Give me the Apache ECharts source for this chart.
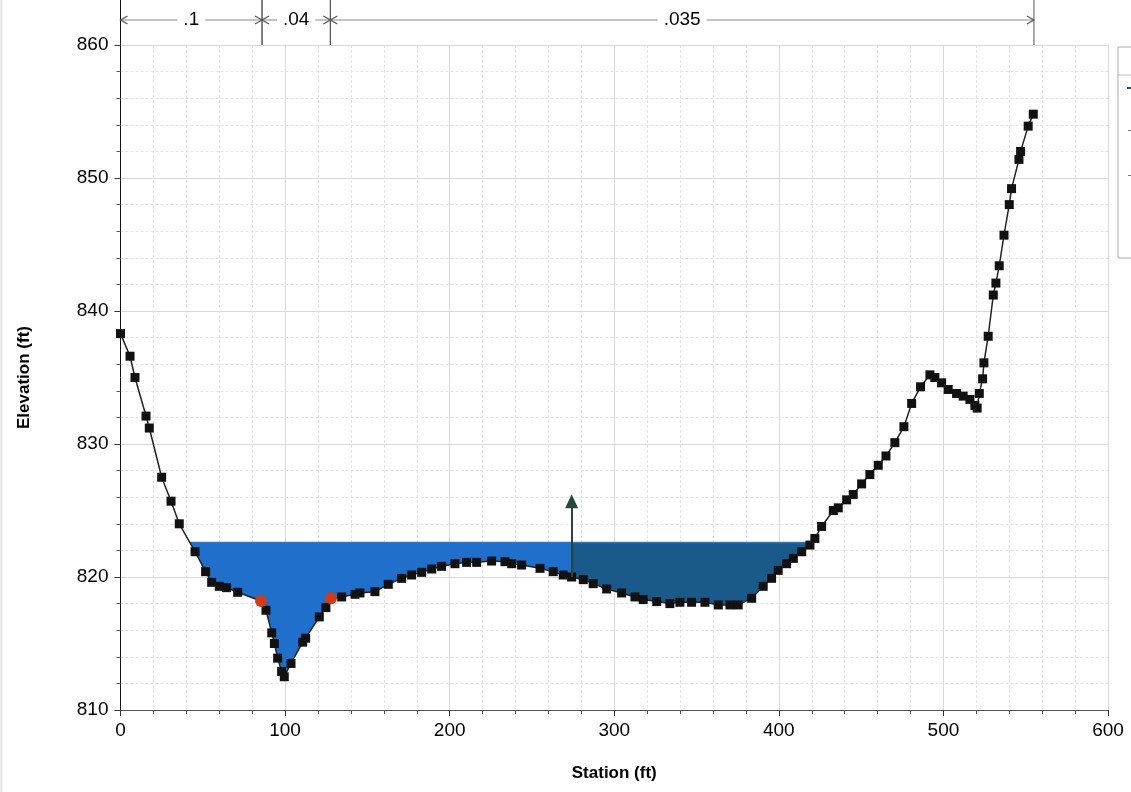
<!DOCTYPE html>
<html><head><meta charset="utf-8">
<script src="https://cdn.jsdelivr.net/npm/echarts@6/dist/echarts.min.js"></script>
<style>html,body{margin:0;padding:0;background:#fff}#c{width:1131px;height:792px}</style>
</head><body><div id="c"></div>
<script>
// Ground profile (station ft, elevation ft)
const stations = [0, 5.8, 8.8, 15.5, 17.5, 25.0, 30.7, 35.7, 45.3, 51.7, 55.4, 60.0, 64.5, 71.2, 85.4, 88.4, 91.9, 93.5, 95.5, 97.9, 99.5, 103.6, 110.7, 112.5, 120.8, 124.8, 127.9, 134.4, 142.5, 145.5, 154.6, 162.7, 170.8, 176.9, 183.0, 189.1, 195.1, 203.2, 210.3, 216.4, 225.5, 233.6, 237.7, 243.7, 254.9, 262.9, 269.0, 274.1, 281.2, 287.2, 295.4, 304.5, 312.6, 317.6, 325.8, 333.8, 339.9, 347.0, 355.1, 363.2, 370.3, 375.3, 383.5, 390.5, 395.6, 399.6, 404.7, 408.8, 413.9, 418.9, 421.9, 426.0, 433.1, 436.1, 441.2, 445.2, 450.3, 455.3, 460.4, 465.1, 470.5, 476.0, 480.7, 486.1, 491.8, 494.8, 498.9, 502.9, 508.0, 512.0, 516.1, 519.1, 520.5, 521.8, 523.8, 524.6, 527.2, 530.3, 531.9, 533.9, 536.8, 540.0, 541.4, 545.9, 546.9, 551.5, 554.6];
const elevations = [838.3, 836.6, 835.0, 832.1, 831.2, 827.5, 825.7, 824.0, 821.9, 820.4, 819.6, 819.3, 819.2, 818.85, 818.2, 817.5, 815.8, 815.0, 813.9, 812.9, 812.5, 813.5, 815.1, 815.4, 817.0, 817.7, 818.4, 818.5, 818.7, 818.8, 818.9, 819.45, 819.9, 820.15, 820.35, 820.6, 820.8, 821.0, 821.1, 821.1, 821.2, 821.15, 821.0, 820.9, 820.65, 820.4, 820.15, 820.0, 819.8, 819.5, 819.1, 818.8, 818.5, 818.3, 818.15, 818.0, 818.1, 818.1, 818.1, 817.9, 817.9, 817.9, 818.4, 819.3, 819.9, 820.5, 821.0, 821.4, 821.9, 822.4, 822.9, 823.8, 825.0, 825.2, 825.8, 826.2, 827.0, 827.7, 828.4, 829.1, 830.1, 831.3, 833.05, 834.3, 835.2, 835.0, 834.6, 834.1, 833.8, 833.6, 833.35, 832.9, 832.7, 833.8, 834.9, 836.1, 838.1, 841.2, 842.1, 843.4, 845.7, 848.0, 849.2, 851.4, 852.0, 853.9, 854.8];
// Bank stations (red points)
const bankStations = [85.4, 127.9];
const bankElevations = [818.2, 818.4];
// Manning's n regions
const nBreaks = [0, 86, 127.5, 555];
const nValues = ['.1', '.04', '.035'];
// Water surface & flow split arrow
const waterSurface = 822.6;
const flowSplitStation = 274.1;
const arrowTopElevation = 825.7;
// Axes
const xMin = 0, xMax = 600, xStep = 100;
const yMin = 810, yMax = 860, yStep = 10;

function groundAt(s) {
  for (let i = 0; i < stations.length - 1; i++) {
    if (s >= stations[i] && s <= stations[i + 1]) {
      const t = (s - stations[i]) / (stations[i + 1] - stations[i]);
      return elevations[i] + t * (elevations[i + 1] - elevations[i]);
    }
  }
  return elevations[elevations.length - 1];
}
function crossings(ws) {
  let left = null, right = null;
  for (let i = 0; i < stations.length - 1; i++) {
    const a = elevations[i], b = elevations[i + 1];
    if (left === null && a >= ws && b < ws) {
      left = stations[i] + (a - ws) / (a - b) * (stations[i + 1] - stations[i]);
    }
    if (a < ws && b >= ws) {
      right = stations[i] + (ws - a) / (b - a) * (stations[i + 1] - stations[i]);
    }
  }
  return [left, right];
}
function poly(api, a, b, ws) {
  const pts = [api.coord([a, ws]), api.coord([a, groundAt(a)])];
  for (let i = 0; i < stations.length; i++) {
    if (stations[i] > a && stations[i] < b) pts.push(api.coord([stations[i], elevations[i]]));
  }
  pts.push(api.coord([b, groundAt(b)]));
  pts.push(api.coord([b, ws]));
  return pts;
}

const groundData = stations.map((s, i) =>
  bankStations.indexOf(s) >= 0 ? {value: [s, elevations[i]], symbol: 'none'} : [s, elevations[i]]);
const bankData = bankStations.map((s, i) => [s, bankElevations[i]]);
const nData = nValues.map((v, i) => [nBreaks[i], nBreaks[i + 1], v]);

const chart = echarts.init(document.getElementById('c'), null, {renderer: 'canvas'});
const font = '"Liberation Sans", Arial, sans-serif';

chart.setOption({
  backgroundColor: '#ffffff',
  animation: false,
  grid: {left: 120.5, right: 23, top: 45, bottom: 82, containLabel: false},
  xAxis: {
    type: 'value', min: xMin, max: xMax, interval: xStep,
    name: 'Station (ft)', nameLocation: 'middle', nameGap: 55,
    nameTextStyle: {fontFamily: font, fontSize: 17, fontWeight: 'bold', color: '#000'},
    axisLine: {lineStyle: {color: '#555', width: 1}},
    axisTick: {show: true, length: 6, lineStyle: {color: '#333'}},
    minorTick: {show: true, splitNumber: 5, length: 4, lineStyle: {color: '#555'}},
    axisLabel: {fontFamily: font, fontSize: 19, color: '#000', margin: 11},
    splitLine: {show: true, lineStyle: {color: '#d9d9d9', width: 1}},
    minorSplitLine: {show: true, lineStyle: {color: '#e3e3e3', width: 1, type: [3, 2]}}
  },
  yAxis: {
    type: 'value', min: yMin, max: yMax, interval: yStep,
    name: 'Elevation (ft)', nameLocation: 'middle', nameGap: 88,
    nameTextStyle: {fontFamily: font, fontSize: 17, fontWeight: 'bold', color: '#000'},
    axisLine: {show: true, lineStyle: {color: '#111', width: 1}},
    axisTick: {show: true, length: 6, lineStyle: {color: '#333'}},
    minorTick: {show: true, splitNumber: 5, length: 4, lineStyle: {color: '#555'}},
    axisLabel: {fontFamily: font, fontSize: 19, color: '#000', margin: 12},
    splitLine: {show: true, lineStyle: {color: '#d9d9d9', width: 1}},
    minorSplitLine: {show: true, lineStyle: {color: '#e3e3e3', width: 1, type: [3, 2]}}
  },
  graphic: [
    {type: 'line', shape: {x1: 1.5, y1: 0, x2: 1.5, y2: 792}, style: {stroke: '#e2e2e2', lineWidth: 2}, z: 100},
    {type: 'rect', shape: {x: 1118, y: 47, width: 40, height: 211}, style: {fill: '#fff', stroke: '#aaa', lineWidth: 1}, z: 100},
    {type: 'line', shape: {x1: 1118, y1: 75, x2: 1131, y2: 75}, style: {stroke: '#bbb', lineWidth: 1}, z: 101},
    {type: 'rect', shape: {x: 1127, y: 87, width: 4, height: 2}, style: {fill: '#24508a'}, z: 101},
    {type: 'rect', shape: {x: 1128, y: 130, width: 3, height: 1}, style: {fill: '#777'}, z: 101},
    {type: 'rect', shape: {x: 1128, y: 175, width: 3, height: 1}, style: {fill: '#777'}, z: 101}
  ],
  series: [
    {
      type: 'custom', name: 'water', z: 2, silent: true, clip: true,
      data: [[flowSplitStation, waterSurface]],
      renderItem: function (params, api) {
        const c = crossings(waterSurface);
        const leftPoly = poly(api, c[0], flowSplitStation, waterSurface);
        const rightPoly = poly(api, flowSplitStation, c[1], waterSurface);
        const p0 = api.coord([c[0], waterSurface]), p1 = api.coord([c[1], waterSurface]);
        return {type: 'group', children: [
          {type: 'polygon', shape: {points: leftPoly}, style: {fill: '#1f6fcb', stroke: null}},
          {type: 'polygon', shape: {points: rightPoly}, style: {fill: '#1a5a8a', stroke: null}},
          {type: 'line', shape: {x1: p0[0], y1: p0[1], x2: p1[0], y2: p1[1]}, style: {stroke: '#2b78cf', lineWidth: 1.5}}
        ]};
      }
    },
    {
      type: 'line', name: 'Ground', data: groundData, z: 4,
      symbol: 'rect', symbolSize: 9, showAllSymbol: true,
      itemStyle: {color: '#111'},
      lineStyle: {color: '#222', width: 1.5},
      markLine: {
        silent: true, symbol: ['none', 'triangle'], symbolSize: [13, 14],
        label: {show: false},
        lineStyle: {color: '#27473b', width: 2, type: 'solid'},
        data: [[{coord: [flowSplitStation, groundAt(flowSplitStation)]}, {coord: [flowSplitStation, arrowTopElevation]}]]
      }
    },
    {
      type: 'scatter', name: 'Bank Sta', data: bankData, z: 10,
      symbol: 'circle', symbolSize: 12,
      itemStyle: {color: '#d23a1e', opacity: 1}
    },
    {
      type: 'custom', name: 'n', z: 6, silent: true, clip: false,
      data: nData,
      renderItem: function (params, api) {
        const x0 = api.coord([api.value(0), yMax])[0];
        const x1 = api.coord([api.value(1), yMax])[0];
        const top = api.coord([0, yMax])[1];
        const y = top - 25;
        const label = nData[params.dataIndex][2];
        const mid = (x0 + x1) / 2;
        const ch = 7, cv = 4;
        return {type: 'group', children: [
          {type: 'line', shape: {x1: x0, y1: top - 45, x2: x0, y2: top}, style: {stroke: params.dataIndex === 0 ? '#111' : '#555', lineWidth: 1}},
          {type: 'line', shape: {x1: x1, y1: top - 45, x2: x1, y2: top}, style: {stroke: '#555', lineWidth: 1}},
          {type: 'line', shape: {x1: x0, y1: y, x2: x1, y2: y}, style: {stroke: '#8a8a8a', lineWidth: 1.2}},
          {type: 'polyline', shape: {points: [[x0 + ch, y - cv], [x0, y], [x0 + ch, y + cv]]}, style: {stroke: '#555', fill: null, lineWidth: 1.2}},
          {type: 'polyline', shape: {points: [[x1 - ch, y - cv], [x1, y], [x1 - ch, y + cv]]}, style: {stroke: '#555', fill: null, lineWidth: 1.2}},
          {type: 'text', x: mid, y: y, style: {text: label, fontFamily: font, fontSize: 19, fill: '#000', align: 'center', verticalAlign: 'middle', backgroundColor: '#fff', padding: [0, 6]}}
        ]};
      }
    }
  ]
});
</script>
</body></html>
